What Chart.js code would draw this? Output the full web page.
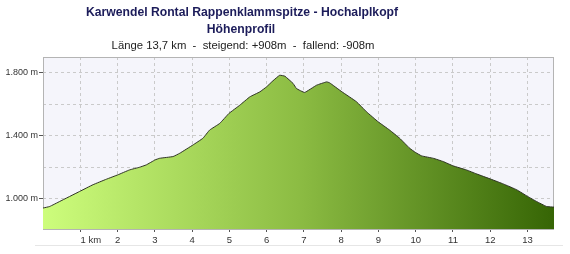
<!doctype html>
<html>
<head>
	<meta charset="UTF-8">
	<title>Höhenprofil</title>
	<script src="https://cdn.jsdelivr.net/npm/chart.js@4.4.0/dist/chart.umd.min.js"></script>
	<style>
		body { margin: 0; background: #fff; }
		#holder { width: 570px; height: 254px; }
	</style>
</head>
<body>
	<div id="holder"><canvas id="profil"></canvas></div>
	<script>
		const titel = 'Karwendel Rontal Rappenklammspitze - Hochalplkopf'
		const untertitel = 'Höhenprofil'
		const info = 'Länge 13,7 km  -  steigend: +908m  -  fallend: -908m'

		// distance in km, height in m
		const distKm = [0, 0.18, 0.45, 0.98, 1.34, 1.70, 2.01, 2.32, 2.59, 2.77, 3.01, 3.13, 3.49, 3.67,
			4.02, 4.29, 4.47, 4.74, 4.99, 5.28, 5.55, 5.82, 6.0, 6.17, 6.35, 6.49, 6.71, 6.80, 7.02,
			7.34, 7.61, 7.69, 8.02, 8.41, 8.68, 8.99, 9.30, 9.57, 9.84, 10.0, 10.16, 10.47, 10.74,
			11.0, 11.36, 11.63, 12.02, 12.35, 12.71, 13.0, 13.24, 13.51, 13.71]
		const hoehe = [941, 951, 983, 1046, 1089, 1124, 1152, 1183, 1200, 1215, 1247, 1257, 1268, 1289,
			1341, 1384, 1436, 1478, 1542, 1594, 1647, 1679, 1711, 1749, 1784, 1778, 1732, 1700, 1675,
			1721, 1742, 1736, 1679, 1616, 1552, 1489, 1436, 1384, 1320, 1293, 1272, 1257, 1236,
			1209, 1183, 1158, 1124, 1094, 1057, 1015, 983, 951, 947]

		const xTicks = [1, 2, 3, 4, 5, 6, 7, 8, 9, 10, 11, 12, 13]
		const yTicks = [1000, 1200, 1400, 1600, 1800]
		const yLabels = [1000, 1400, 1800]

		function formatMeter (v) {
			return String(v).replace(/\B(?=(\d{3})+(?!\d))/g, '.') + ' m'
		}

		const rahmen = {
			id: 'rahmen',
			beforeDraw (chart) {
				const { ctx, chartArea: a } = chart
				ctx.save()
				ctx.fillStyle = '#f5f5fb'
				ctx.fillRect(a.left, a.top, a.right - a.left, a.bottom - a.top)
				ctx.restore()
			},
			beforeDatasetsDraw (chart) {
				const { ctx, chartArea: a } = chart
				ctx.save()
				ctx.strokeStyle = '#b4b4b4'
				ctx.lineWidth = 1
				ctx.strokeRect(a.left + 0.5, a.top + 0.5, a.right - a.left - 1, a.bottom - a.top)
				ctx.restore()
			},
			afterDraw (chart) {
				const { ctx } = chart
				ctx.save()
				ctx.textAlign = 'center'
				ctx.textBaseline = 'middle'
				ctx.fillStyle = '#1c1c5a'
				ctx.font = 'bold 12.2px "Liberation Sans", Arial, sans-serif'
				ctx.fillText(titel, 242, 13)
				ctx.fillText(untertitel, 241, 30)
				ctx.fillStyle = '#222'
				ctx.font = '11.3px "Liberation Sans", Arial, sans-serif'
				ctx.fillText(info, 243, 46)
				// faint line under the axis labels
				ctx.strokeStyle = '#e6e6e6'
				ctx.beginPath()
				ctx.moveTo(35, 245.5)
				ctx.lineTo(563, 245.5)
				ctx.stroke()
				ctx.restore()
			}
		}

		function verlauf (context) {
			const a = context.chart.chartArea
			if (!a) return '#8dbd44'
			const g = context.chart.ctx.createLinearGradient(a.left, 0, a.right, 0)
			g.addColorStop(0, '#cdfd7c')
			g.addColorStop(0.5, '#8cbc43')
			g.addColorStop(1, '#366505')
			return g
		}

		const config = {
			type: 'line',
			data: {
				datasets: [{
					data: distKm.map((d, i) => ({ x: d, y: hoehe[i] })),
					borderColor: '#2e3324',
					borderWidth: 1,
					backgroundColor: verlauf,
					fill: 'start',
					pointRadius: 0,
					tension: 0.1
				}]
			},
			options: {
				responsive: true,
				maintainAspectRatio: false,
				animation: false,
				layout: { padding: { top: 57, right: 16, left: 0, bottom: 0 } },
				plugins: {
					legend: { display: false },
					tooltip: { enabled: false }
				},
				scales: {
					x: {
						type: 'linear',
						min: 0,
						max: 13.71,
						afterBuildTicks: scale => { scale.ticks = xTicks.map(v => ({ value: v })) },
						afterFit: scale => { scale.height = 25 },
						ticks: {
							autoSkip: false,
							maxRotation: 0,
							padding: 3,
							color: '#333',
							font: { size: 9.5, family: '"Liberation Sans", Arial, sans-serif' },
							callback: v => v === 1 ? '        1 km' : String(v)
						},
						grid: { color: '#cacaca', tickColor: '#555', tickLength: 3 },
						border: { display: false, dash: [3, 3] }
					},
					y: {
						min: 808,
						max: 1900,
						afterBuildTicks: scale => { scale.ticks = yTicks.map(v => ({ value: v })) },
						afterFit: scale => { scale.width = 43 },
						ticks: {
							padding: 1,
							color: '#333',
							font: { size: 9, family: '"Liberation Sans", Arial, sans-serif' },
							callback: v => yLabels.includes(v) ? formatMeter(v) : ''
						},
						grid: {
							color: '#cacaca',
							tickLength: 4,
							tickColor: ctx => yLabels.includes(ctx.tick && ctx.tick.value) ? '#555' : 'rgba(0,0,0,0)'
						},
						border: { display: false, dash: [3, 3] }
					}
				}
			},
			plugins: [rahmen]
		}

		new Chart(document.getElementById('profil'), config)
	</script>
</body>
</html>
